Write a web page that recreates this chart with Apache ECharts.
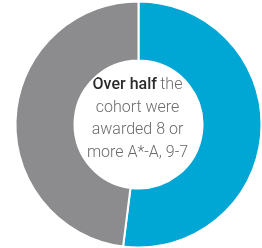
<!DOCTYPE html>
<html><head><meta charset="utf-8">
<script src="https://cdn.jsdelivr.net/npm/echarts@6/dist/echarts.min.js"></script>
<style>html,body{margin:0;padding:0;background:#fff}#c{width:262px;height:248px}</style>
</head><body><div id="c"></div>
<script>
var categories = ['8 or more A*-A, 9-7', 'Other'];
var values = [52, 48];
var colors = ['#00a6d4', '#8c8c8e'];
var chart = echarts.init(document.getElementById('c'));
chart.setOption({
  animation: false,
  series: [{
    type: 'pie',
    center: [138.5, 124.5],
    radius: [64, 123],
    startAngle: 90,
    clockwise: true,
    label: {show: false},
    labelLine: {show: false},
    itemStyle: {borderColor: '#fff', borderWidth: 2},
    data: categories.map(function (c, i) {
      return {name: c, value: values[i], itemStyle: {color: colors[i]}};
    })
  }],
  graphic: [{
    type: 'text',
    x: 137.5,
    y: 74,
    style: {
      text: '{b|Over half} {n|the}\n{n|cohort were}\n{n|awarded 8 or}\n{n|more A*-A, 9-7}',
      align: 'center',
      verticalAlign: 'top',
      rich: {
        b: {fontFamily: 'Roboto', fontSize: 16, fontWeight: 500, fill: '#2b2b2b', lineHeight: 22.5, align: 'center'},
        n: {fontFamily: 'Roboto', fontSize: 16, fontWeight: 300, fill: '#6a6a6a', lineHeight: 22.5, align: 'center'}
      }
    }
  }]
});
</script></body></html>
